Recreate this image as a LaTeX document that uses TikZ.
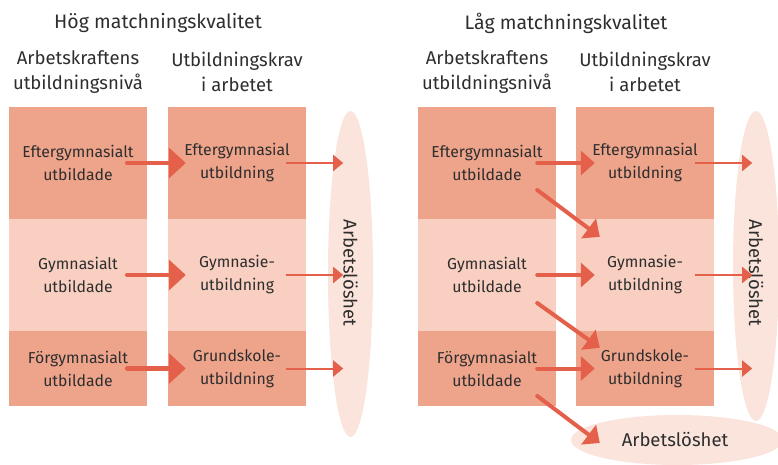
\documentclass[tikz,border=0pt]{standalone}
\usepackage{fontspec}
\setmainfont{Fira Sans}
\usetikzlibrary{arrows.meta,shapes.geometric}
\definecolor{darkbox}{HTML}{EEA48B}
\definecolor{lightbox}{HTML}{F8CFC0}
\definecolor{ell}{HTML}{FAE4DB}
\definecolor{arr}{HTML}{E4604A}
\definecolor{txt}{HTML}{2E2E2E}
\tikzset{
  box/.style={fill=#1, draw=none, minimum width=138pt, inner sep=0pt, align=center,
    font=\fontsize{15.8}{23}\selectfont, text=txt},
  title/.style={font=\fontsize{19.5}{24}\selectfont, text=txt},
  head/.style={font=\fontsize{18.5}{24.5}\selectfont, text=txt, align=center},
  elltext/.style={font=\fontsize{18.5}{20}\selectfont, text=txt},
  ellbg/.style={fill=ell, draw=none, shape=ellipse, inner sep=0pt},
  thick arrow/.style={draw=arr, line width=4.5pt, line cap=round, -{Triangle[length=17pt,width=30pt]}},
  mid arrow/.style={draw=arr, line width=4pt, line cap=round, -{Triangle[length=14pt,width=24pt]}},
  thin arrow/.style={draw=arr, line width=2pt, -{Triangle[length=10pt,width=16pt]}},
}
\begin{document}
\begin{tikzpicture}[x=1pt,y=-1pt]
\useasboundingbox (0,0) rectangle (778,464);
\clip (0,0) rectangle (778,464);
% ---------- left panel ----------
\node[title] (t1) at (158,23) {Hög matchningskvalitet};
\node[head] (h11) at (78,72) {Arbetskraftens\\utbildningsnivå};
\node[head] (h12) at (237,72) {Utbildningskrav\\i arbetet};
\node[ellbg, minimum width=45pt, minimum height=326pt] (e1) at (350.5,274) {};
\node[elltext, rotate=-90] (e1t) at (350.5,273) {Arbetslöshet};
\node[box=darkbox, minimum height=112pt] (a1) at (78,163) {Eftergymnasialt\\utbildade};
\node[box=lightbox, minimum height=112pt] (a2) at (78,275) {Gymnasialt\\utbildade};
\node[box=darkbox, minimum height=75pt] (a3) at (78,368.5) {Förgymnasialt\\utbildade};
\node[box=darkbox, minimum height=112pt] (b1) at (237,163) {Eftergymnasial\\utbildning};
\node[box=lightbox, minimum height=112pt] (b2) at (237,275) {Gymnasie-\\utbildning};
\node[box=darkbox, minimum height=75pt] (b3) at (237,368.5) {Grundskole-\\utbildning};
\foreach \i in {1,2,3}{
  \draw[thick arrow] ([xshift=-20pt]a\i.east) -- ([xshift=18pt]b\i.west);
  \draw[thin arrow] ([xshift=-20pt]b\i.east) -- ([xshift=37pt]b\i.east);
}
% ---------- right panel ----------
\node[title] (t2) at (566,23) {Låg matchningskvalitet};
\node[head] (h21) at (487,72) {Arbetskraftens\\utbildningsnivå};
\node[head] (h22) at (645,72) {Utbildningskrav\\i arbetet};
\node[ellbg, minimum width=46pt, minimum height=310pt] (e2) at (756,266) {};
\node[ellbg, minimum width=212pt, minimum height=50pt] (e3) at (677,440) {};
\node[elltext, rotate=-90] (e2t) at (756,273) {Arbetslöshet};
\node[elltext] (e3t) at (675,439) {Arbetslöshet};
\node[box=darkbox, minimum height=112pt] (c1) at (487,163) {Eftergymnasialt\\utbildade};
\node[box=lightbox, minimum height=112pt] (c2) at (487,275) {Gymnasialt\\utbildade};
\node[box=darkbox, minimum height=75pt] (c3) at (487,368.5) {Förgymnasialt\\utbildade};
\node[box=darkbox, minimum height=112pt] (d1) at (645,163) {Eftergymnasial\\utbildning};
\node[box=lightbox, minimum height=112pt] (d2) at (645,275) {Gymnasie-\\utbildning};
\node[box=darkbox, minimum height=75pt] (d3) at (645,368.5) {Grundskole-\\utbildning};
\foreach \i in {1,2,3}{
  \draw[mid arrow] ([xshift=-19pt]c\i.east) -- ([xshift=19pt]d\i.west);
  \draw[thin arrow] ([xshift=-19pt]d\i.east) -- ([xshift=38pt]d\i.east);
}
\draw[mid arrow] ([xshift=-19pt,yshift=-27pt]c1.east) -- ([xshift=24pt,yshift=-18pt]d2.north west);
\draw[mid arrow] ([xshift=-19pt,yshift=-28pt]c2.east) -- ([xshift=24pt,yshift=-17pt]d3.north west);
\draw[mid arrow] ([xshift=-19pt,yshift=-27.5pt]c3.east) -- ([xshift=29pt,yshift=-3pt]e3.west);
\end{tikzpicture}
\end{document}
